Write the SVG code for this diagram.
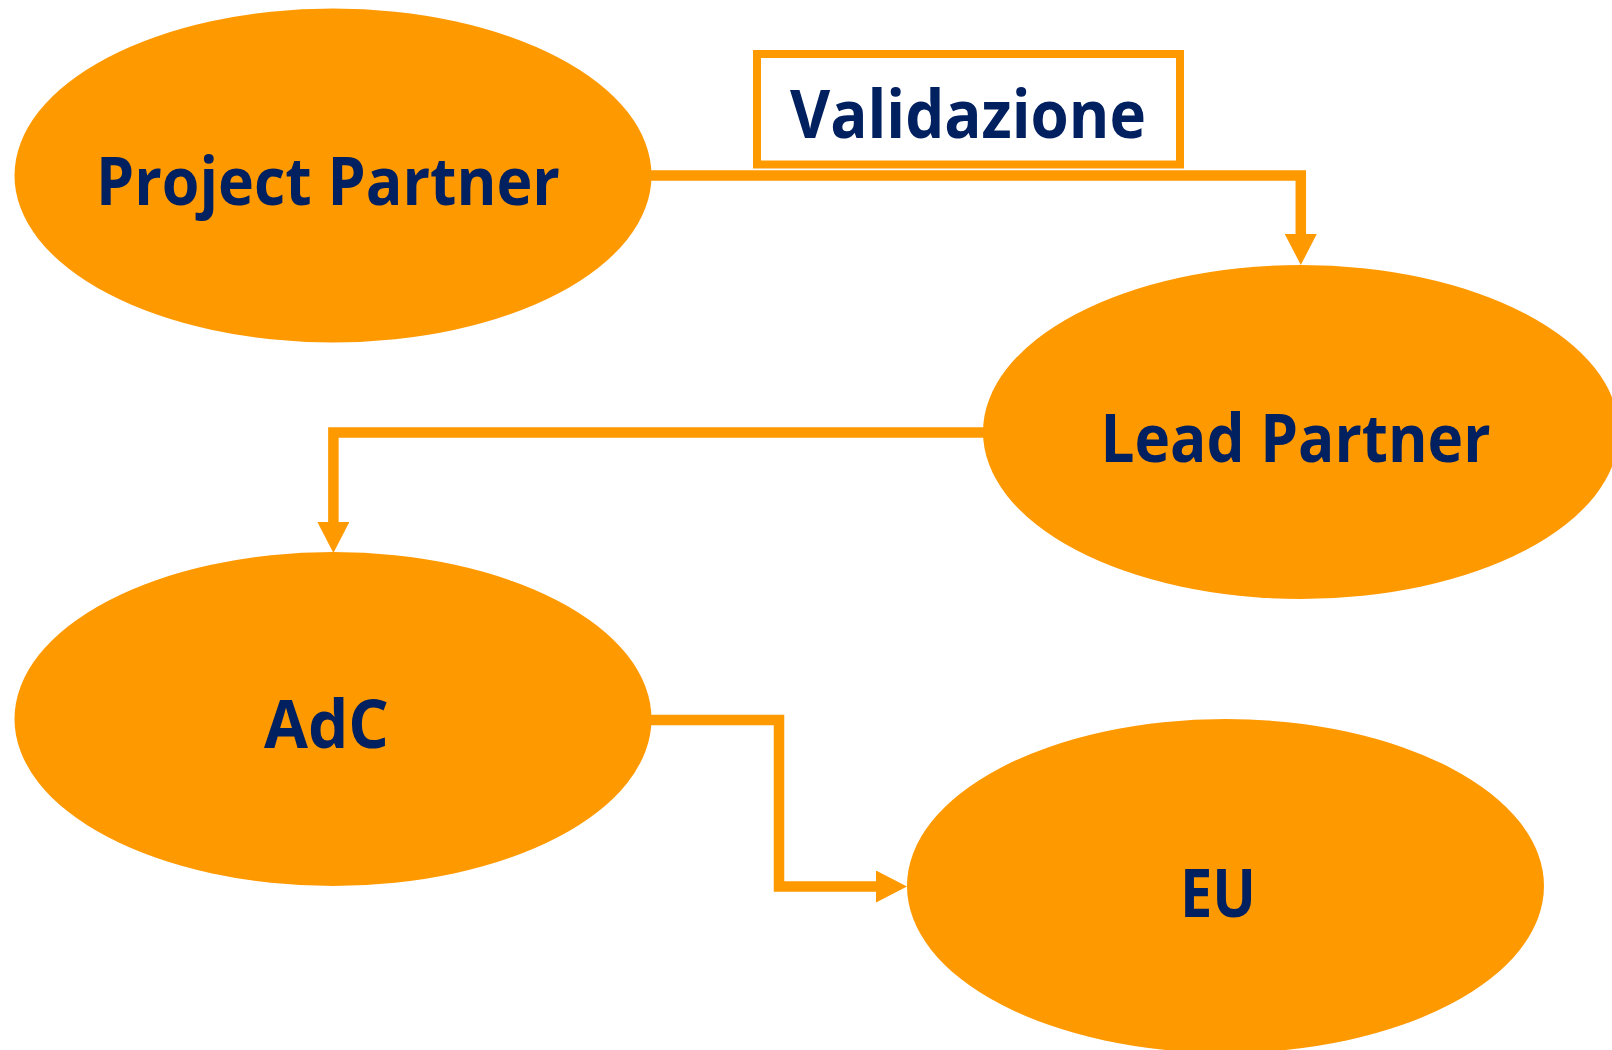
<svg xmlns="http://www.w3.org/2000/svg" width="1612" height="1050" viewBox="0 0 1612 1050">
  <style>
    .node { fill: #FF9900; }
    .lbl { font-family: "Open Sans", "Liberation Sans", sans-serif; font-weight: 700; font-size: 66px; fill: #002060; }
    .conn { fill: none; stroke: #FF9900; stroke-width: 10.5; stroke-linejoin: miter; }
  </style>
  <defs>
    <marker id="arr" markerUnits="userSpaceOnUse" markerWidth="32" markerHeight="32" viewBox="0 0 31 32" refX="0" refY="16" orient="auto">
      <path d="M0,0 L31,16 L0,32 Z" fill="#FF9900"/>
    </marker>
  </defs>
  <rect width="1612" height="1050" fill="#FFFFFF"/>

  <g id="connectors">
    <path class="conn" d="M640,175.5 H1300.8 V234" marker-end="url(#arr)"/>
    <path class="conn" d="M995,432.5 H333.4 V522" marker-end="url(#arr)"/>
    <path class="conn" d="M640,720 H779 V886.5 H876" marker-end="url(#arr)"/>
  </g>

  <g id="validazione-label">
    <rect x="757" y="54" width="423" height="110.5" fill="#FFFFFF" stroke="#FF9900" stroke-width="8"/>
    <text class="lbl" x="790" y="138" textLength="356" lengthAdjust="spacingAndGlyphs">Validazione</text>
  </g>

  <g id="node-project-partner">
    <ellipse class="node" cx="333" cy="175.5" rx="318.5" ry="167"/>
    <text class="lbl" x="96" y="205" textLength="464" lengthAdjust="spacingAndGlyphs">Project Partner</text>
  </g>

  <g id="node-lead-partner">
    <ellipse class="node" cx="1301" cy="432" rx="318" ry="167"/>
    <text class="lbl" x="1100.5" y="462" textLength="390" lengthAdjust="spacingAndGlyphs">Lead Partner</text>
  </g>

  <g id="node-adc">
    <ellipse class="node" cx="333" cy="719" rx="318.5" ry="167"/>
    <text class="lbl" x="264" y="748" textLength="125" lengthAdjust="spacingAndGlyphs">AdC</text>
  </g>

  <g id="node-eu">
    <ellipse class="node" cx="1225.5" cy="886" rx="318.5" ry="167"/>
    <text class="lbl" x="1180" y="917" textLength="76" lengthAdjust="spacingAndGlyphs">EU</text>
  </g>
</svg>
